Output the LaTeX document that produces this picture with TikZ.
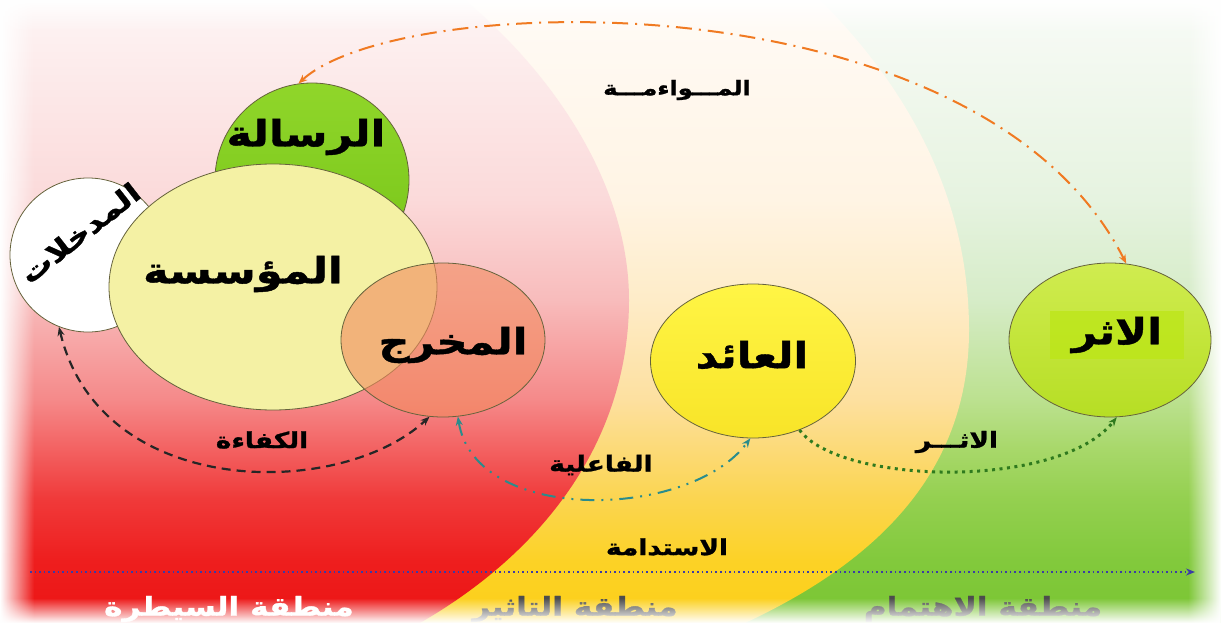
\documentclass[tikz,border=0pt]{standalone}
\usepackage{fontspec}
\newfontfamily\arabicfont[Script=Arabic,FakeStretch=1.2,FakeBold=1.2]{DejaVu Sans}
\TeXXeTstate=1
\usetikzlibrary{shapes.geometric,arrows.meta,fadings}

\definecolor{zr0}{HTML}{EC1414}\definecolor{zr1}{HTML}{EE1E1E}\definecolor{zr2}{HTML}{F03A3A}
\definecolor{zr3}{HTML}{F36262}\definecolor{zr4}{HTML}{F58A8A}\definecolor{zr5}{HTML}{F8BCBC}
\definecolor{zr6}{HTML}{FBDADA}\definecolor{zr7}{HTML}{FDF1F1}
\definecolor{zy0}{HTML}{FCCF18}\definecolor{zy1}{HTML}{FCD226}\definecolor{zy2}{HTML}{FBD550}
\definecolor{zy3}{HTML}{FCDA78}\definecolor{zy4}{HTML}{FDE0A0}\definecolor{zy5}{HTML}{FEECC8}
\definecolor{zy6}{HTML}{FFF4E4}\definecolor{zy7}{HTML}{FFFAF4}
\definecolor{zg0}{HTML}{7AC532}\definecolor{zg1}{HTML}{82C93C}\definecolor{zg2}{HTML}{94D050}
\definecolor{zg3}{HTML}{A8D86A}\definecolor{zg4}{HTML}{BCE190}\definecolor{zg5}{HTML}{D6ECC8}
\definecolor{zg6}{HTML}{E6F3E0}\definecolor{zg7}{HTML}{F6FAF4}
\definecolor{rimC}{HTML}{66633C}
\definecolor{risalaT}{HTML}{90D62A}\definecolor{risalaB}{HTML}{76C418}
\definecolor{muassasaY}{HTML}{F4F1A4}
\definecolor{mukhrajS}{HTML}{F28A5E}
\definecolor{aidT}{HTML}{FFF545}\definecolor{aidB}{HTML}{F8E428}
\definecolor{atharT}{HTML}{D0EC50}\definecolor{atharB}{HTML}{B6DE24}
\definecolor{atharH}{HTML}{BCE614}
\definecolor{orangeA}{HTML}{F07A22}
\definecolor{tealA}{HTML}{2A8C8C}
\definecolor{greenA}{HTML}{2F7A1E}
\definecolor{blueA}{HTML}{3B3BA6}

\pgfdeclareverticalshading{redzone}{100bp}{color(0bp)=(zr0); color(25bp)=(zr0); color(30bp)=(zr1); color(35bp)=(zr2); color(39bp)=(zr3); color(43bp)=(zr4); color(51bp)=(zr5); color(59bp)=(zr6); color(73bp)=(zr7); color(100bp)=(zr7)}
\pgfdeclareverticalshading{yellowzone}{100bp}{color(0bp)=(zy0); color(25bp)=(zy0); color(30bp)=(zy1); color(35bp)=(zy2); color(39bp)=(zy3); color(43bp)=(zy4); color(51bp)=(zy5); color(59bp)=(zy6); color(73bp)=(zy7); color(100bp)=(zy7)}
\pgfdeclareverticalshading{greenzone}{100bp}{color(0bp)=(zg0); color(25bp)=(zg0); color(30bp)=(zg1); color(35bp)=(zg2); color(39bp)=(zg3); color(43bp)=(zg4); color(51bp)=(zg5); color(59bp)=(zg6); color(73bp)=(zg7); color(100bp)=(zg7)}

\tikzfading[name=edgeW, left color=transparent!0, right color=transparent!100]
\tikzfading[name=edgeE, left color=transparent!100, right color=transparent!0]
\tikzfading[name=edgeS, bottom color=transparent!0, top color=transparent!100]
\tikzfading[name=edgeN, top color=transparent!0, bottom color=transparent!100]

\tikzset{
  bubble/.style={ellipse, draw=rimC, line width=0.8pt, inner sep=0pt},
  biglbl/.style={font=\arabicfont\bfseries\fontsize{36pt}{40pt}\selectfont, inner sep=0pt},
  smalllbl/.style={font=\arabicfont\bfseries\fontsize{22pt}{26pt}\selectfont, inner sep=0pt},
  zonelbl/.style={font=\arabicfont\bfseries\fontsize{26pt}{30pt}\selectfont, inner sep=0pt},
  >={Stealth[length=9pt,width=7pt]}
}

\begin{document}
\begin{tikzpicture}[x=1pt,y=-1pt]
	%%%%% START %%%%%
	\useasboundingbox (0,0) rectangle (1221,623);
	
	% zones
	\shade[shading=greenzone] (0,0) rectangle (1221,623);
	\shade[shading=yellowzone] (0,0) -- (820,0) .. controls (910,90) and (969,200) .. (969,330) .. controls (969,470) and (880,560) .. (745,623) -- (0,623) -- cycle;
	\shade[shading=redzone] (0,0) -- (465,0) .. controls (560,80) and (629,190) .. (629,300) .. controls (629,430) and (555,545) .. (420,623) -- (0,623) -- cycle;
	
	% zone names
	\node[zonelbl, text=white] (zoneA) at (229,609) {\beginR منطقة السيطرة\endR};
	\node[zonelbl, text=black!70] (zoneB) at (575,609) {\beginR منطقة التاثير\endR};
	\node[zonelbl, text=black!70] (zoneC) at (983,609) {\beginR منطقة الاهتمام\endR};
	
	% soft frame
	\fill[white, path fading=edgeW] (0,0) rectangle (34,623);
	\fill[white, path fading=edgeE] (1188,0) rectangle (1221,623);
	\fill[white, path fading=edgeS] (0,598) rectangle (1221,623);
	\fill[white, path fading=edgeN] (0,0) rectangle (1221,32);
	
	% circles
	\node[bubble, minimum width=194pt, minimum height=194pt, top color=risalaT, bottom color=risalaB] (risala) at (312,180) {};
	\node[bubble, minimum width=156pt, minimum height=154pt, fill=white] (madkhalat) at (88,255) {};
	\node[bubble, minimum width=328pt, minimum height=246pt, fill=muassasaY] (muassasa) at (273,287) {};
	\node[bubble, minimum width=204pt, minimum height=154pt, fill=mukhrajS, fill opacity=0.6] (mukhraj) at (443,340) {};
	\node[bubble, minimum width=205pt, minimum height=154pt, top color=aidT, bottom color=aidB] (aid) at (753,361) {};
	\node[bubble, minimum width=202pt, minimum height=154pt, top color=atharT, bottom color=atharB] (athar) at (1110,340) {};
	
	% circle names
	\node[biglbl] (risalaL) at (306,137) {\beginR الرسالة\endR};
	\node[biglbl, font=\arabicfont\bfseries\fontsize{27pt}{31pt}\selectfont, rotate=38] (madkhalatL) at (80,233) {\beginR المدخلات\endR};
	\node[biglbl] (muassasaL) at (243,274) {\beginR المؤسسة\endR};
	\node[biglbl] (mukhrajL) at (453,345) {\beginR المخرج\endR};
	\node[biglbl] (aidL) at (752,355) {\beginR العائد\endR};
	\node[biglbl, fill=atharH, fill opacity=0.7, text opacity=1, inner xsep=22pt, inner ysep=6pt] (atharL) at (1117,335) {\beginR الاثر\endR};
	
	% connectors
	\draw[<->, orangeA, line width=2pt, dash pattern=on 16pt off 7pt on 2pt off 7pt] (risala.98) .. controls (400,-10) and (980,-25) .. (athar.78);
	\draw[<->, black!85, line width=2.2pt, dash pattern=on 9pt off 6pt] (madkhalat.248) .. controls (100,500) and (340,500) .. (mukhraj.260);
	\draw[<->, tealA, line width=2pt, dash pattern=on 14pt off 7pt on 2pt off 7pt on 2pt off 7pt] (mukhraj.281) .. controls (475,525) and (690,520) .. (aid.268);
	\draw[->, greenA, line width=3pt, dash pattern=on 3pt off 4.5pt] (aid.304) .. controls (840,485) and (1060,490) .. (athar.275);
	\coordinate (axisL) at (30,572);
	\coordinate (axisR) at (1195,572);
	\draw[->, blueA, line width=1.6pt, dash pattern=on 1.6pt off 3pt] (axisL) -- (axisR);
	
	% connector names
	\node[smalllbl, font=\arabicfont\bfseries\fontsize{20pt}{24pt}\selectfont] (muwaamaL) at (677,90) {\beginR المـــواءمـــة\endR};
	\node[smalllbl] (kafaaL) at (262,440) {\beginR الكفاءة\endR};
	\node[smalllbl] (failiyaL) at (601,465) {\beginR الفاعلية\endR};
	\node[smalllbl] (istidamaL) at (667,547) {\beginR الاستدامة\endR};
	\node[smalllbl] (atharLbl) at (957,442) {\beginR الاثـــر\endR};
	
	%%%%% END %%%%%
\end{tikzpicture}
\end{document}
